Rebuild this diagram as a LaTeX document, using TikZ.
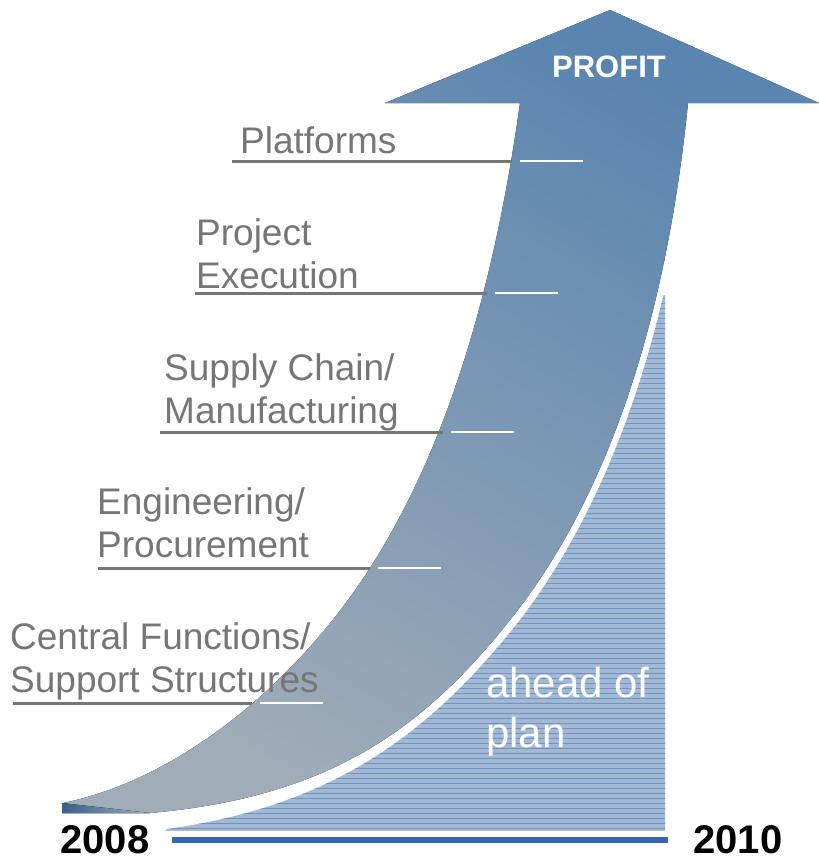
\documentclass[tikz,border=0pt]{standalone}
\usepackage{fontspec}
\setmainfont{Liberation Sans}

\definecolor{shafttop}{HTML}{5A85B0}
\definecolor{shaftbot}{HTML}{A0ACB8}
\definecolor{shaftdark}{HTML}{3B5F8C}
\definecolor{hatchfill}{HTML}{A2B9D5}
\definecolor{hatchline}{HTML}{7392BE}
\definecolor{yearblue}{HTML}{3467AF}
\definecolor{labelgray}{HTML}{767676}

\tikzset{
	lbl/.style = {anchor = base west, align = left, inner sep = 0, text = labelgray,
		font = \fontsize{37}{43}\selectfont},
	uline/.style = {labelgray, line width = 3},
	wline/.style = {white, line width = 2},
	year/.style = {inner sep = 0, anchor = base, font = \fontsize{40}{48}\selectfont\bfseries}
}

\begin{document}

\begin{tikzpicture}[x = 1pt, y = -1pt]

	\useasboundingbox (0, 0) rectangle (819, 862);
	
	% Hatched area ahead of plan
	
	\begin{scope}
		\clip (150, 295) rectangle (665, 830);
		\clip (167, 829) .. controls (332, 806) and (428, 735) .. (516, 625)
			.. controls (627, 484) and (677, 284) .. (695, 104)
			-- (700, 104) -- (700, 835) -- (160, 835) -- cycle;
		\fill [hatchfill] (150, 290) rectangle (670, 835);
		\foreach \y in {298, 303, ..., 828}
			\draw [hatchline, line width = 0.9] (150, \y) -- (670, \y);
	\end{scope}
	
	% Time line
	
	\node [year] (y08) at (105, 853) {2008};
	\node [year] (y10) at (738, 853) {2010};
	\coordinate (t08) at (172, 840);
	\coordinate (t10) at (668, 840);
	\draw [yearblue, line width = 6] (t08) -- (t10);
	
	% The arrow
	
	\fill [top color = shafttop, bottom color = shaftbot, shading angle = -30]
		(385, 103) -- (610, 10) -- (819, 103) -- (688, 103)
		.. controls (670, 283) and (622, 480) .. (510, 620)
		.. controls (423, 729) and (330, 797) .. (150, 813)
		-- (62, 813) -- (63, 803)
		.. controls (185, 778) and (300, 677) .. (370, 568)
		.. controls (456, 434) and (498, 261) .. (520, 103)
		-- cycle;
	\fill [left color = shaftdark, right color = shaftbot] (62, 803) -- (62, 813) -- (150, 813) -- cycle;
	
	\node [white, inner sep = 0, font = \fontsize{31}{37}\selectfont\bfseries] (profit) at (609, 67) {PROFIT};
	
	% Labels (anchored at the baseline of their last line)
	
	\node [lbl] (plat) at (240, 153) {Platforms};
	\node [lbl] (proj) at (196, 288) {Project\\Execution};
	\node [lbl] (supp) at (164, 423) {Supply Chain/\\Manufacturing};
	\node [lbl] (engi) at (97, 557) {Engineering/\\Procurement};
	\node [lbl] (cent) at (10, 692) {Central Functions/\\Support Structures};
	
	\foreach \y/\a/\b in {161/232/512, 293/195/487, 432/160/443, 568/98/370, 703/13/252}
	{
		\draw [uline] (\a, \y) -- (\b, \y);
		\draw [wline] (\b + 8, \y) -- (\b + 71, \y);
	}
	
	\node [lbl, text = white, font = \fontsize{42}{50}\selectfont] (ahead) at (486, 747) {ahead of\\plan};
	
\end{tikzpicture}

\end{document}
